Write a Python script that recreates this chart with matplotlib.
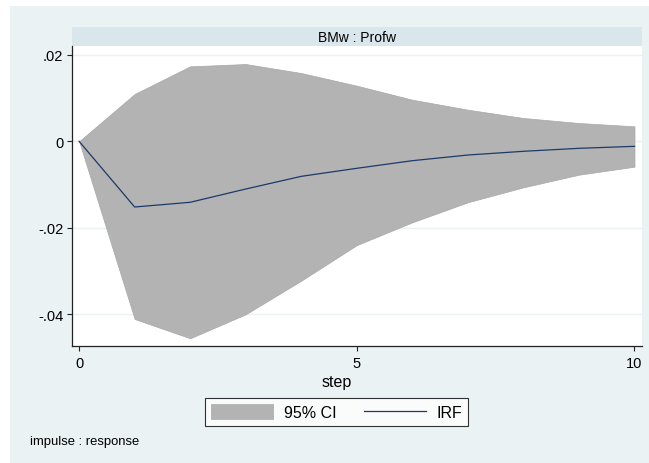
import numpy as np
import matplotlib
matplotlib.use("Agg")
import matplotlib.pyplot as plt
from matplotlib.patches import Rectangle
from matplotlib.ticker import FuncFormatter

# ============ IRF DATA (impulse BMw, response Profw) ============
steps = [0, 1, 2, 3, 4, 5, 6, 7, 8, 9, 10]
irf = [0.0, -0.01519, -0.0141, -0.01103, -0.0081, -0.00624, -0.00448, -0.00317, -0.00231, -0.00162, -0.00116]
ci_upper = [0.0, 0.01094, 0.01734, 0.01787, 0.01579, 0.01286, 0.00962, 0.00731, 0.00539, 0.00423, 0.00347]
ci_lower = [0.0, -0.04109, -0.04555, -0.04, -0.03223, -0.0240, -0.01873, -0.0141, -0.01064, -0.00772, -0.00587]
y_ticks = [-0.04, -0.02, 0.0, 0.02]
x_ticks = [0, 5, 10]

panel_title = "BMw : Profw"
legend_labels = ["95% CI", "IRF"]

# ============ STYLE ============
plt.rcParams['font.family'] = ['Liberation Sans', 'DejaVu Sans']
BG = '#eaf2f3'
BAND = '#d9e6eb'
CI_GRAY = '#b3b3b3'
NAVY = '#1c3a68'

W, H = 649, 464
fig = plt.figure(figsize=(W / 100, H / 100), dpi=100)
fig.patch.set_facecolor('white')

# graph region background
fig.patches.append(Rectangle((10 / W, 0), 1 - 10 / W, 1 - 6.7 / H,
                             transform=fig.transFigure, facecolor=BG,
                             edgecolor='none', zorder=-10))

left, right = 71.5 / W, 641.7 / W
bottom, top = 1 - 347.3 / H, 1 - 47.3 / H
ax = fig.add_axes([left, bottom, right - left, top - bottom])
ax.set_facecolor('white')

# title band above the plot
band_top = 1 - 28 / H
fig.patches.append(Rectangle((left, top), right - left, band_top - top,
                             transform=fig.transFigure, facecolor=BAND,
                             edgecolor='none', zorder=-5))
fig.text((left + right) / 2, (top + band_top) / 2, panel_title,
         ha='center', va='center', fontsize=10)

ci = ax.fill_between(steps, ci_lower, ci_upper, facecolor=CI_GRAY,
                     edgecolor='#a8a8a8', linewidth=0.5, label=legend_labels[0])
line, = ax.plot(steps, irf, color=NAVY, linewidth=0.9, label=legend_labels[1])

ax.set_xlim(-0.137, 10.13)
ax.set_ylim(-0.0474, 0.02197)
ax.set_xticks(x_ticks)
ax.set_yticks(y_ticks)
ax.yaxis.set_major_formatter(FuncFormatter(
    lambda v, p: ("%g" % round(v, 4)).replace("0.", ".")))

ax.set_axisbelow(True)
ax.grid(axis='y', color=BG, linewidth=1.0)
for s in ['top', 'right']:
    ax.spines[s].set_visible(False)
for s in ['left', 'bottom']:
    ax.spines[s].set_color('#222222')
    ax.spines[s].set_linewidth(0.9)
ax.tick_params(axis='both', direction='out', length=3.6, width=0.8,
               color='#222222', labelsize=10.5, pad=2.4)
ax.tick_params(axis='x', pad=3.2)

fig.text(337 / W, 1 - 383 / H, "step", ha='center', va='center', fontsize=11.5)

leg = fig.legend([ci, line], legend_labels, loc='center',
                 bbox_to_anchor=(336.5 / W, 1 - 413 / H), ncol=2,
                 fontsize=11.5, frameon=True, fancybox=False,
                 handlelength=3.9, handleheight=1.05, handletextpad=0.65,
                 columnspacing=1.7, borderpad=0.4, borderaxespad=0)
leg.get_frame().set_edgecolor('black')
leg.get_frame().set_linewidth(0.8)
leg.get_frame().set_facecolor('white')

fig.text(30 / W, 1 - 441.7 / H, "impulse : response", ha='left',
         va='center', fontsize=9.4)

fig.savefig("out.png", dpi=100)
